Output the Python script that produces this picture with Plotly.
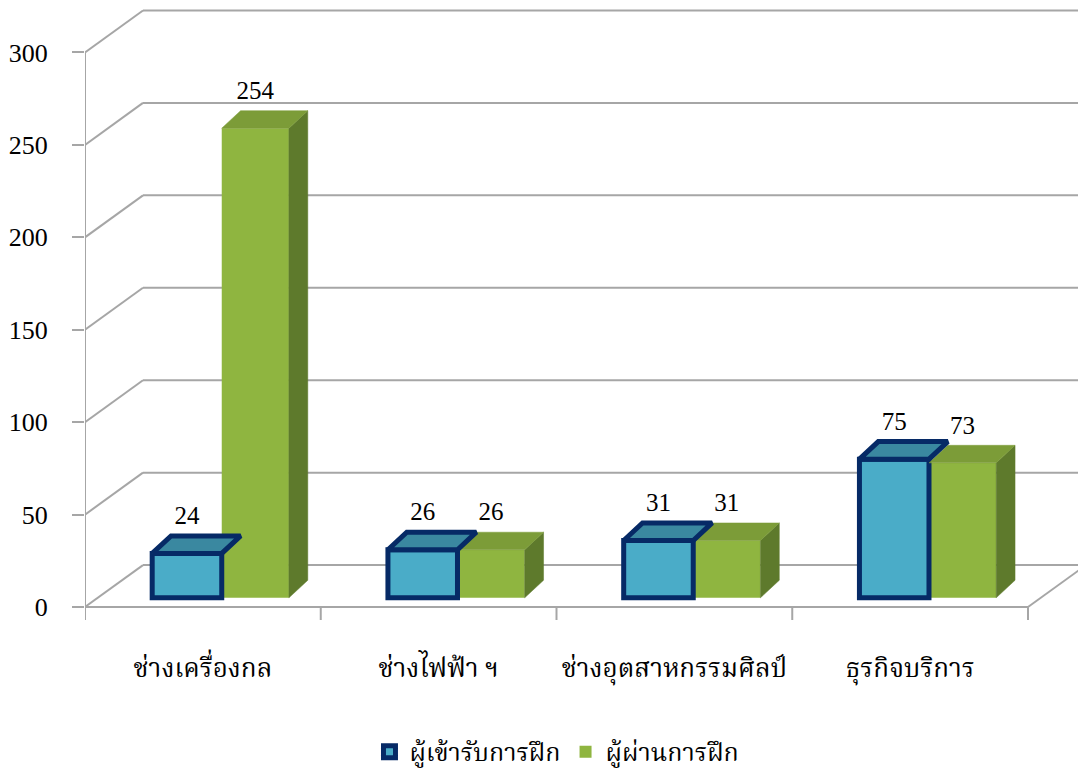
import plotly.graph_objects as go

# ---------------- data ----------------
categories = ["ช่างเครื่องกล", "ช่างไฟฟ้า ฯ", "ช่างอุตสาหกรรมศิลป์", "ธุรกิจบริการ"]
series_names = ["ผู้เข้ารับการฝึก", "ผู้ผ่านการฝึก"]
trainees = [24, 26, 31, 75]
passed = [254, 26, 31, 73]
y_ticks = [0, 50, 100, 150, 200, 250, 300]

# ---------------- style / pseudo-3D geometry ----------------
BASE = 5.0          # bars stand a little back on the floor
DX, DY = 0.08, 9.5  # bar depth offset (x units, value units)
BACK_DX, BACK_DY = 0.246, 22.7  # back wall offset
BLUE_OFF, BLUE_W = -0.215, 0.295
GREEN_OFF, GREEN_W = 0.08, 0.285

BLUE_FRONT = "#4AACC8"
BLUE_TOP = "#3A88A0"
NAVY = "#062A66"
GREEN_FRONT = "#8FB540"
GREEN_TOP = "#7C9C38"
GREEN_SIDE = "#5E7A2C"
GRID = "#A6A6A6"

NUM_FONT = "Liberation Serif, Times New Roman, serif"
THAI_FONT = "'Noto Serif Thai', 'Noto Sans Thai', Norasi, Loma, 'Liberation Serif', serif"

x_idx = list(range(len(categories)))
x_left, x_right = -0.5, len(categories) - 0.5

fig = go.Figure()

# front faces as real bars
fig.add_trace(go.Bar(
    x=x_idx, y=passed, base=BASE, offset=GREEN_OFF, width=GREEN_W,
    name=series_names[1], legendrank=2,
    marker=dict(color=GREEN_FRONT, line=dict(width=0)),
    hoverinfo="y",
))
fig.add_trace(go.Bar(
    x=x_idx, y=trainees, base=BASE, offset=BLUE_OFF, width=BLUE_W,
    name=series_names[0], legendrank=1,
    marker=dict(color=BLUE_FRONT, line=dict(color=NAVY, width=5)),
    hoverinfo="y",
))


def face(xs, ys, fill, line_color=None, line_width=0):
    fig.add_trace(go.Scatter(
        x=xs + [xs[0]], y=ys + [ys[0]], mode="lines", fill="toself",
        fillcolor=fill,
        line=dict(color=line_color or fill, width=line_width if line_width else 0.5),
        showlegend=False, hoverinfo="skip",
    ))


for i, v in enumerate(passed):
    x0 = i + GREEN_OFF
    x1 = x0 + GREEN_W
    top = BASE + v
    face([x1, x1, x1 + DX, x1 + DX], [BASE, top, top + DY, BASE + DY], GREEN_SIDE)
    face([x0, x1, x1 + DX, x0 + DX], [top, top, top + DY, top + DY], GREEN_TOP)

for i, v in enumerate(trainees):
    x0 = i + BLUE_OFF
    x1 = x0 + BLUE_W
    top = BASE + v
    face([x0, x1, x1 + DX, x0 + DX], [top, top, top + DY, top + DY], BLUE_TOP, NAVY, 5)

# data labels
lab_pad = 3.0
for off, w, vals in ((BLUE_OFF, BLUE_W, trainees), (GREEN_OFF, GREEN_W, passed)):
    fig.add_trace(go.Scatter(
        x=[i + off + w / 2 for i in x_idx],
        y=[BASE + v + DY + lab_pad for v in vals],
        text=[str(v) for v in vals], mode="text", textposition="top center",
        textfont=dict(family=NUM_FONT, size=25, color="black"),
        showlegend=False, hoverinfo="skip", cliponaxis=False,
    ))

# ---------------- walls, floor, gridlines ----------------
shapes = []
gl = dict(color=GRID, width=2)
shapes.append(dict(
    type="path", xref="x", yref="y", layer="below",
    path=f"M {x_left},0 L {x_right},0 L {x_right + BACK_DX},{BACK_DY} L {x_left + BACK_DX},{BACK_DY} Z",
    fillcolor="white", line=dict(width=0),
))
for t in y_ticks:
    shapes.append(dict(type="line", xref="x", yref="y", layer="below",
                       x0=x_left, y0=t, x1=x_left + BACK_DX, y1=t + BACK_DY, line=gl))
    shapes.append(dict(type="line", xref="x", yref="y", layer="below",
                       x0=x_left + BACK_DX, y0=t + BACK_DY, x1=x_right + BACK_DX, y1=t + BACK_DY, line=gl))
shapes.append(dict(type="line", xref="x", yref="y", layer="below",
                   x0=x_left, y0=0, x1=x_right, y1=0, line=gl))
shapes.append(dict(type="line", xref="x", yref="y", layer="below",
                   x0=x_right, y0=0, x1=x_right + BACK_DX, y1=BACK_DY, line=gl))
shapes.append(dict(type="line", xref="x", yref="y", layer="below",
                   x0=x_left, y0=0, x1=x_left, y1=y_ticks[-1], line=gl))
for k in range(len(categories) + 1):
    xb = x_left + k
    shapes.append(dict(type="line", xref="x", yref="y", layer="below",
                       x0=xb, y0=0, x1=xb, y1=-7, line=gl))

# page body has an 8px margin: size the figure so the plot lands where the reference has it
fig.update_layout(
    width=1078, height=772,
    margin=dict(l=77, r=0, t=1, b=160, autoexpand=False),
    paper_bgcolor="white", plot_bgcolor="white",
    barmode="overlay",
    shapes=shapes,
    showlegend=True,
    legend=dict(
        orientation="h", x=0.4715, xanchor="center", y=-0.216, yanchor="middle",
        font=dict(family=THAI_FONT, size=25, color="black"),
        itemwidth=30, traceorder="normal",
    ),
    xaxis=dict(
        range=[x_left, x_right + BACK_DX], showgrid=False, zeroline=False,
        showline=False, tickmode="array", tickvals=x_idx, ticktext=categories,
        ticks="", ticklabelstandoff=30, automargin=False,
        tickfont=dict(family=THAI_FONT, size=26, color="black"),
        fixedrange=True,
    ),
    yaxis=dict(
        range=[-7, 323.5], showgrid=False, zeroline=False, showline=False,
        tickmode="array", tickvals=y_ticks, ticks="outside", ticklen=12,
        tickcolor=GRID, tickwidth=2, ticklabelstandoff=19, automargin=False,
        tickfont=dict(family=NUM_FONT, size=26, color="black"),
        fixedrange=True,
    ),
)

fig.write_html("out.html")
